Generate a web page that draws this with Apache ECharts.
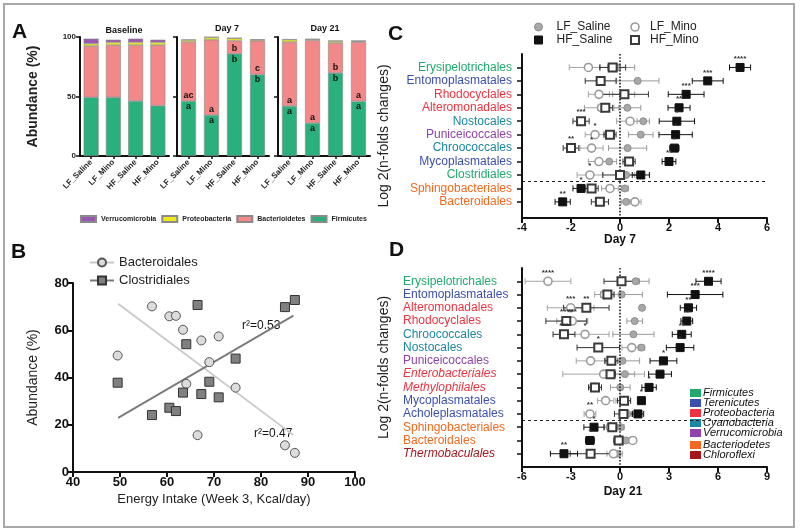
<!DOCTYPE html>
<html><head><meta charset="utf-8">
<script src="https://cdn.jsdelivr.net/npm/echarts@6/dist/echarts.min.js"></script>
<style>html,body{margin:0;padding:0;background:#fff}#c{width:800px;height:532px}</style>
</head><body><div id="c"></div><script>
// ---------- Panel A data ----------
const aGroups = ['LF_Saline','LF_Mino','HF_Saline','HF_Mino'];
const baseFirm = [49.3,49.3,46.2,42.3];
const baseBact = [43.1,43.9,47.0,50.9];
const baseProt = [2.0,2.3,2.3,2.3];
const baseVerr = [4.2,2.2,3.1,2.2];
const d7Firm = [46.2,34.4,85.9,68.5];
const d7Bact = [49.6,63.3,11.0,28.4];
const d7Prot = [1.7,2.0,2.0,0.8];
const d7Verr = [0.3,0.3,0.3,0.3];
const d21Firm = [42.0,27.7,69.7,45.9];
const d21Bact = [53.8,69.5,25.3,49.9];
const d21Prot = [2.0,0.8,1.6,0.8];
const d21Verr = [0.3,0.3,0.3,0.3];
const d7FirmLetters = ['a','a','b','b'];
const d7BactLetters = ['ac','a','b','c'];
const d21FirmLetters = ['a','a','b','a'];
const d21BactLetters = ['a','a','b','a'];

// ---------- Panel B data ----------
const bIntake = [49.5,56.8,60.5,61.9,63.4,64.1,66.5,67.3,69.0,71.0,74.6,85.1,87.2];
const bBacteroidales = [49.3,70.1,65.9,66.1,60.2,37.3,15.6,55.7,46.5,57.4,35.7,11.3,8.1];
const bClostridiales = [37.8,24.1,27.2,25.8,33.6,54.1,70.7,33.0,38.2,31.6,48.0,69.8,72.8];
const bBactFitX = [49.6,86.9];
const bBactFitY = [71.2,15.6];
const bClosFitX = [49.6,86.9];
const bClosFitY = [22.9,66.2];

// ---------- Panel C data (Day 7) ----------
const cOrders = ['Erysipelotrichales','Entomoplasmatales','Rhodocyclales','Alteromonadales','Nostocales','Puniceicoccales','Chroococcales','Mycoplasmatales','Clostridiales','Sphingobacteriales','Bacteroidales'];
const cPhyla = ['Firmicutes','Terenicutes','Proteobacteria','Proteobacteria','Cyanobacteria','Verrucomicrobia','Cyanobacteria','Terenicutes','Firmicutes','Bacteriodetes','Bacteriodetes'];
const cLFSalineMean = [-0.10,0.72,0.15,0.30,0.95,0.85,0.31,-0.44,0.25,0.20,0.25];
const cLFSalineErr  = [0.70,0.87,0.45,0.55,0.25,0.50,0.78,0.30,0.35,0.14,0.20];
const cLFMinoMean = [-1.29,null,-0.86,-0.75,0.41,-1.02,-1.16,-0.86,-1.23,-0.41,0.61];
const cLFMinoErr  = [0.78,null,0.43,0.70,0.55,0.40,0.47,0.43,0.52,0.34,0.25];
const cHFSalineMean = [4.90,3.58,2.70,2.41,2.32,2.27,2.22,2.00,0.85,-1.59,-2.34];
const cHFSalineErr  = [0.43,0.63,0.73,0.45,0.72,0.68,0.19,0.28,0.35,0.33,0.31];
const cHFMinoMean = [-0.30,-0.79,0.18,-0.60,-1.59,-0.41,-2.00,0.37,0.00,-1.16,-0.82];
const cHFMinoErr  = [0.53,0.63,0.98,0.30,0.33,0.25,0.32,0.25,0.70,0.27,0.35];
const cLFSalineStars = ['','','','','','','','','','',''];
const cLFMinoStars = ['','','','','','*','*','','*','',''];
const cHFSalineStars = ['****','***','***','**','*','*','*','**','','*','**'];
const cHFMinoStars = ['','','','','***','','**','','','',''];

// ---------- Panel D data (Day 21) ----------
const dOrders = ['Erysipelotrichales','Entomoplasmatales','Alteromonadales','Rhodocyclales','Chroococcales','Nostocales','Puniceicoccales','Enterobacteriales','Methylophilales','Mycoplasmatales','Acholeplasmatales','Sphingobacteriales','Bacteroidales','Thermobaculales'];
const dPhyla = ['Firmicutes','Terenicutes','Proteobacteria','Proteobacteria','Cyanobacteria','Cyanobacteria','Verrucomicrobia','Proteobacteria','Proteobacteria','Terenicutes','Terenicutes','Bacteriodetes','Bacteriodetes','Chloroflexi'];
const dItalic = [0,0,0,0,0,0,0,1,1,0,0,0,0,1];
const dLFSalineMean = [0.96,0.10,1.35,0.90,0.82,1.31,0.15,0.30,0.02,0.20,0.45,0.05,0.35,-0.16];
const dLFSalineErr  = [0.82,1.27,0.15,0.48,1.26,0.20,1.05,0.60,0.60,0.45,0.30,0.20,0.20,0.30];
const dLFMinoMean = [-4.41,-0.95,-3.02,-2.92,-2.14,0.72,-1.80,-1.00,-1.55,-0.88,-1.84,-0.60,0.78,-0.40];
const dLFMinoErr  = [1.40,0.60,1.43,0.95,1.47,0.60,0.88,2.50,0.30,0.50,0.36,0.40,0.20,0.40];
const dHFSalineMean = [5.42,4.60,4.19,4.09,3.78,3.68,2.66,2.45,1.78,1.31,1.10,-1.59,-1.84,-3.43];
const dHFSalineErr  = [0.77,1.70,0.50,0.36,0.58,0.84,0.82,0.70,0.44,0.20,0.35,0.62,0.27,0.83];
const dHFMinoMean = [0.09,-0.77,-2.06,-3.29,-3.43,-1.33,-0.53,-0.58,-1.53,0.25,0.21,-0.47,-0.08,-1.80];
const dHFMinoErr  = [1.07,0.40,1.39,1.25,0.67,1.30,0.40,0.30,0.40,0.40,0.55,0.25,0.30,1.25];
const dLFSalineStars = ['','','','','','','','','','','','','',''];
const dLFMinoStars = ['****','','***','***','*','','','','','','**','','',''];
const dHFSalineStars = ['****','***','**','**','**','*','*','*','*','*','','*','*','**'];
const dHFMinoStars = ['','','**','****','***','*','','','','','','','',''];

// ---------- Phylum key ----------
const keyNames = ['Firmicutes','Terenicutes','Proteobacteria','Cyanobacteria','Verrucomicrobia','Bacteriodetes','Chloroflexi'];

// ---------- styles ----------
const FONT = '"Liberation Sans", Arial, Helvetica, sans-serif';
const SQUARE = 'path://M0,0L10,0L10,10L0,10Z';
const phylumColor = {Firmicutes:'#22a86f',Terenicutes:'#3b4fae',Proteobacteria:'#ee3340',Cyanobacteria:'#1b87a0',Verrucomicrobia:'#8f44aa',Bacteriodetes:'#f4691f',Chloroflexi:'#a3161d'};
const barColor = {Firmicutes:'#2ab07d',Bacterioidetes:'#f28888',Proteobacteria:'#f1e91c',Verrucomicrobia:'#9a57b2'};
const grp = {
  LF_Saline:{symbol:'circle',size:7,item:{color:'#a8a8a8',borderColor:'#8e8e8e',borderWidth:1},err:'#9a9a9a'},
  LF_Mino:{symbol:'circle',size:8,item:{color:'#ffffff',borderColor:'#9c9c9c',borderWidth:1.6},err:'#a3a3a3'},
  HF_Mino:{symbol:'rect',size:8,item:{color:'#ffffff',borderColor:'#3a3a3a',borderWidth:2},err:'#333333'},
  HF_Saline:{symbol:'rect',size:8,item:{color:'#111111',borderColor:'#111111',borderWidth:1},err:'#111111'}
};
const AX = {onZero:false, lineStyle:{color:'#111',width:2}};

const chart = echarts.init(document.getElementById('c'));

// ---------- Panel A series ----------
const aSets = [
  [baseFirm,baseBact,baseProt,baseVerr,null,null],
  [d7Firm,d7Bact,d7Prot,d7Verr,d7FirmLetters,d7BactLetters],
  [d21Firm,d21Bact,d21Prot,d21Verr,d21FirmLetters,d21BactLetters]
];
const series = [];
aSets.forEach((s,k)=>{
  const names = ['Firmicutes','Bacterioidetes','Proteobacteria','Verrucomicrobia'];
  names.forEach((nm,j)=>{
    const letters = j===0 ? s[4] : (j===1 ? s[5] : null);
    series.push({
      type:'bar', name:nm, xAxisIndex:k, yAxisIndex:k, stack:'st'+k, data:s[j], barWidth:15,
      itemStyle:{color:barColor[nm],borderColor:'#8a8a8a',borderWidth:0.6},
      label: letters ? {show:true, position: j===0?'insideTop':'insideBottom', distance:1,
        formatter:p=>letters[p.dataIndex], fontSize:9, fontWeight:'bold', color:'#111', fontFamily:FONT} : {show:false},
      silent:true
    });
  });
});

// ---------- Panel B series ----------
const zip = (a,b)=>a.map((v,i)=>[v,b[i]]);
series.push({type:'line',name:'Bacteroidales',xAxisIndex:3,yAxisIndex:3,data:zip(bBactFitX,bBactFitY),symbol:'circle',showSymbol:false,
  lineStyle:{color:'#c9c9c9',width:1.8},itemStyle:{color:'#dcdcdc',borderColor:'#555',borderWidth:1},z:1,silent:true});
series.push({type:'line',name:'Clostridiales',xAxisIndex:3,yAxisIndex:3,data:zip(bClosFitX,bClosFitY),symbol:'rect',showSymbol:false,
  lineStyle:{color:'#7a7a7a',width:1.8},itemStyle:{color:'#808080',borderColor:'#333',borderWidth:1},z:1,silent:true});
series.push({type:'scatter',name:'Bacteroidales',xAxisIndex:3,yAxisIndex:3,data:zip(bIntake,bBacteroidales),symbol:'circle',symbolSize:9,
  itemStyle:{color:'#dcdcdc',borderColor:'#555',borderWidth:1,opacity:1},z:3,silent:true});
series.push({type:'scatter',name:'Clostridiales',xAxisIndex:3,yAxisIndex:3,data:zip(bIntake,bClostridiales),symbol:'rect',symbolSize:9,
  itemStyle:{color:'#808080',borderColor:'#333',borderWidth:1,opacity:1},z:3,silent:true});

// ---------- Panels C / D series ----------
function errRender(color){
  return function(params, api){
    const p1 = api.coord([api.value(0), api.value(2)]);
    const p2 = api.coord([api.value(1), api.value(2)]);
    const h = 3, st = {stroke:color, lineWidth:1};
    return {type:'group', children:[
      {type:'line', shape:{x1:p1[0],y1:p1[1],x2:p2[0],y2:p2[1]}, style:st},
      {type:'line', shape:{x1:p1[0],y1:p1[1]-h,x2:p1[0],y2:p1[1]+h}, style:st},
      {type:'line', shape:{x1:p2[0],y1:p2[1]-h,x2:p2[0],y2:p2[1]+h}, style:st}
    ]};
  };
}
function addForest(ax, groups, dashY){
  const order = ['LF_Saline','LF_Mino','HF_Mino','HF_Saline'];
  order.forEach(g=>{
    const [m,e] = groups[g];
    const items = [];
    m.forEach((v,i)=>{ if(v!=null) items.push([v-e[i], v+e[i], i+1]); });
    series.push({type:'custom', name:'err_'+g+ax, xAxisIndex:ax, yAxisIndex:ax, renderItem:errRender(grp[g].err),
      data:items, encode:{x:[0,1], y:2}, z:2, silent:true});
  });
  order.forEach((g,gi)=>{
    const [m,e,stars] = groups[g];
    const items = [];
    m.forEach((v,i)=>{ if(v!=null) items.push({name:stars[i]||'', value:[v,i+1]}); });
    const s = {type:'scatter', name:g, xAxisIndex:ax, yAxisIndex:ax, symbol:grp[g].symbol, symbolSize:grp[g].size,
      itemStyle:Object.assign({opacity:1},grp[g].item), data:items, z:3+gi, silent:true,
      label:{show:true, position:'top', distance:0, formatter:'{b}', fontSize:8, fontWeight:'bold', color:'#333', fontFamily:FONT}};
    if(gi===0){
      s.markLine = {silent:true, symbol:['none','none'], label:{show:false}, animation:false,
        data:[{xAxis:0, lineStyle:{type:'dotted',color:'#222',width:1.6}}, {yAxis:dashY, lineStyle:{type:[3,3],color:'#222',width:1}}]};
    }
    series.push(s);
  });
}
addForest(4, {
  LF_Saline:[cLFSalineMean,cLFSalineErr,cLFSalineStars],
  LF_Mino:[cLFMinoMean,cLFMinoErr,cLFMinoStars],
  HF_Mino:[cHFMinoMean,cHFMinoErr,cHFMinoStars],
  HF_Saline:[cHFSalineMean,cHFSalineErr,cHFSalineStars]
}, 9.5);
addForest(5, {
  LF_Saline:[dLFSalineMean,dLFSalineErr,dLFSalineStars],
  LF_Mino:[dLFMinoMean,dLFMinoErr,dLFMinoStars],
  HF_Mino:[dHFMinoMean,dHFMinoErr,dHFMinoStars],
  HF_Saline:[dHFSalineMean,dHFSalineErr,dHFSalineStars]
}, 11.5);

// ---------- rich label styles ----------
const rich = {};
Object.keys(phylumColor).forEach(k=>{
  rich[k] = {color:phylumColor[k], fontSize:12, fontFamily:FONT};
  rich[k+'I'] = {color:phylumColor[k], fontSize:12, fontStyle:'italic', fontFamily:FONT};
});
function rowFormatter(orders, phyla, italic){
  return function(v){
    const r = Math.round(v);
    if (Math.abs(v-r)>1e-6 || r<1 || r>orders.length) return '';
    const key = phyla[r-1] + (italic && italic[r-1] ? 'I' : '');
    return '{'+key+'|'+orders[r-1]+'}';
  };
}
const range = n => Array.from({length:n},(_,i)=>i+1);

// ---------- axes ----------
const xAxis = [0,1,2].map(k=>({type:'category', gridIndex:k, data:aGroups, axisLine:AX,
  axisTick:{show:true, alignWithLabel:true, length:3, lineStyle:{color:'#111',width:1.5}},
  axisLabel:{rotate:45, interval:0, fontSize:8, fontWeight:'bold', color:'#222', margin:5, fontFamily:FONT}}));
const yAxis = [0,1,2].map(k=>({type:'value', gridIndex:k, min:0, max:100, interval:50,
  axisLine:Object.assign({show:true},AX), axisTick:{show:true, length:4, lineStyle:{color:'#111',width:1.5}},
  splitLine:{show:false},
  axisLabel:{show:k===0, fontSize:8, fontWeight:'bold', color:'#222', margin:4, fontFamily:FONT},
  name: k===0 ? 'Abundance (%)' : '', nameLocation:'middle', nameGap:40,
  nameTextStyle:{fontSize:14, fontWeight:'bold', color:'#222', fontFamily:FONT}}));
xAxis.push({type:'value', gridIndex:3, min:40, max:100, interval:10, axisLine:AX,
  axisTick:{show:true,length:5,lineStyle:{color:'#111',width:2}}, splitLine:{show:false},
  axisLabel:{fontSize:13, fontWeight:'bold', color:'#111', margin:4, fontFamily:FONT},
  name:'Energy Intake (Week 3, Kcal/day)', nameLocation:'middle', nameGap:21,
  nameTextStyle:{fontSize:13, color:'#222', fontFamily:FONT}});
yAxis.push({type:'value', gridIndex:3, min:0, max:80, interval:20, axisLine:Object.assign({show:true},AX),
  axisTick:{show:true,length:5,lineStyle:{color:'#111',width:2}}, splitLine:{show:false},
  axisLabel:{fontSize:13, fontWeight:'bold', color:'#111', margin:4, fontFamily:FONT},
  name:'Abundance (%)', nameLocation:'middle', nameGap:33,
  nameTextStyle:{fontSize:14, color:'#222', fontFamily:FONT}});
xAxis.push({type:'value', gridIndex:4, min:-4, max:6, interval:2, axisLine:AX,
  axisTick:{show:true,length:5,lineStyle:{color:'#111',width:2}}, splitLine:{show:false},
  axisLabel:{fontSize:11, fontWeight:'bold', color:'#111', margin:4, fontFamily:FONT}});
yAxis.push({type:'value', gridIndex:4, inverse:true, min:0, max:12.2, axisLine:Object.assign({show:true},AX),
  axisTick:{show:true, length:5, customValues:range(cOrders.length), lineStyle:{color:'#111',width:1.5}},
  splitLine:{show:false},
  axisLabel:{customValues:range(cOrders.length), margin:10, formatter:rowFormatter(cOrders,cPhyla,null), rich:rich},
  name:'Log 2(n-folds changes)', nameLocation:'middle', nameGap:131,
  nameTextStyle:{fontSize:14, color:'#222', fontFamily:FONT}});
xAxis.push({type:'value', gridIndex:5, min:-6, max:9, interval:3, axisLine:AX,
  axisTick:{show:true,length:5,lineStyle:{color:'#111',width:2}}, splitLine:{show:false},
  axisLabel:{fontSize:11, fontWeight:'bold', color:'#111', margin:4, fontFamily:FONT}});
yAxis.push({type:'value', gridIndex:5, inverse:true, min:0, max:15, axisLine:Object.assign({show:true},AX),
  axisTick:{show:true, length:5, customValues:range(dOrders.length), lineStyle:{color:'#111',width:1.5}},
  splitLine:{show:false},
  axisLabel:{customValues:range(dOrders.length), margin:119, align:'left', formatter:rowFormatter(dOrders,dPhyla,dItalic), rich:rich},
  name:'Log 2(n-folds changes)', nameLocation:'middle', nameGap:131,
  nameTextStyle:{fontSize:14, color:'#222', fontFamily:FONT}});

// ---------- graphics (frame, panel letters, titles, key) ----------
const T = (x,y,text,font,align,extra)=>Object.assign({type:'text', x:x, y:y, silent:true,
  style:{text:text, font:font, fill:'#111', textAlign:align||'left', align:align||'left', textVerticalAlign:'middle', verticalAlign:'middle'}}, extra||{});
const graphic = [
  {type:'rect', shape:{x:4,y:4,width:790,height:523}, style:{fill:'none', stroke:'#a8a8a8', lineWidth:2}, silent:true},
  T(12,32,'A','bold 21px '+FONT),
  T(11,252,'B','bold 21px '+FONT),
  T(388,34,'C','bold 21px '+FONT),
  T(389,250,'D','bold 21px '+FONT),
  T(124,31,'Baseline','bold 9px '+FONT,'center'),
  T(227,29,'Day 7','bold 9px '+FONT,'center'),
  T(325,29,'Day 21','bold 9px '+FONT,'center'),
  T(620,240,'Day 7','bold 12px '+FONT,'center'),
  T(623,492,'Day 21','bold 12px '+FONT,'center'),
  T(242,326,'r²=0.53','12px '+FONT,'left'),
  T(254,434,'r²=0.47','12px '+FONT,'left')
];
const keyY = [393,403,413,423,433,445,455];
keyNames.forEach((k,i)=>{
  graphic.push({type:'rect', shape:{x:690,y:keyY[i]-4,width:11,height:8}, style:{fill:phylumColor[k]}, silent:true});
  graphic.push(T(703,keyY[i],k,'italic 11px '+FONT,'left'));
});

const option = {
  animation:false,
  backgroundColor:'#fff',
  textStyle:{fontFamily:FONT},
  grid:[
    {left:80, top:37, width:89, height:119, outerBoundsMode:'none'},
    {left:177, top:37, width:92, height:119, outerBoundsMode:'none'},
    {left:278, top:37, width:92, height:119, outerBoundsMode:'none'},
    {left:73, top:283, width:282, height:189, outerBoundsMode:'none'},
    {left:522, top:54, width:245, height:164, outerBoundsMode:'none'},
    {left:522, top:268, width:245, height:199, outerBoundsMode:'none'}
  ],
  legend:[
    {left:75, top:210, itemWidth:15, itemHeight:6, itemGap:5, icon:'rect', selectedMode:false,
     textStyle:{fontSize:7, fontWeight:'bold', color:'#222', fontFamily:FONT},
     data:['Verrucomicrobia','Proteobacteria','Bacterioidetes','Firmicutes']},
    {left:84, top:251, orient:'vertical', itemWidth:24, itemHeight:10, itemGap:5, selectedMode:false,
     textStyle:{fontSize:13, color:'#222', fontFamily:FONT},
     data:['Bacteroidales','Clostridiales']},
    {left:529, top:16, orient:'vertical', itemWidth:26, itemHeight:8, itemGap:1, selectedMode:false,
     textStyle:{fontSize:12, color:'#222', fontFamily:FONT},
     data:[{name:'LF_Saline', icon:'circle', itemStyle:grp.LF_Saline.item},
           {name:'HF_Saline', icon:SQUARE, itemStyle:grp.HF_Saline.item}]},
    {left:625, top:16, orient:'vertical', itemWidth:20, itemHeight:8, itemGap:1, selectedMode:false,
     textStyle:{fontSize:12, color:'#222', fontFamily:FONT},
     data:[{name:'LF_Mino', icon:'circle', itemStyle:grp.LF_Mino.item},
           {name:'HF_Mino', icon:SQUARE, itemStyle:grp.HF_Mino.item}]}
  ],
  xAxis:xAxis,
  yAxis:yAxis,
  graphic:graphic,
  series:series
};
chart.setOption(option);
</script></body></html>
